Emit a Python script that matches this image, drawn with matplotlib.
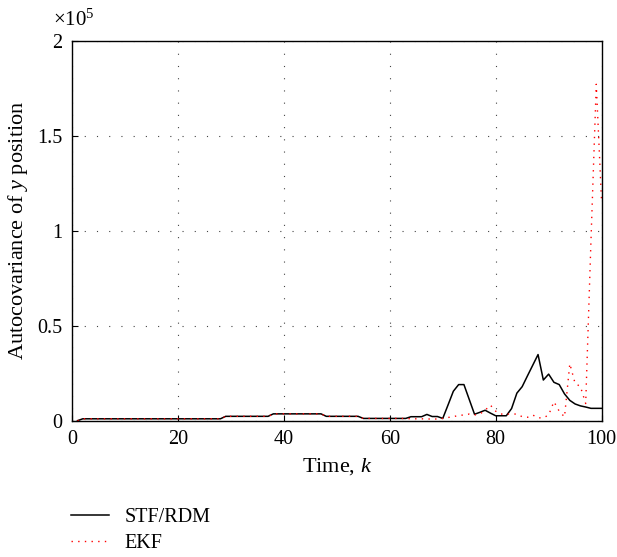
import matplotlib
matplotlib.use("Agg")
import matplotlib.pyplot as plt
from matplotlib.lines import Line2D

# Data (k = 1..100)
k = list(range(1, 101))

stf_rdm = [
    0, 1000, 1000, 1000, 1000, 1000, 1000, 1000, 1000, 1000,
    1000, 1000, 1000, 1000, 1000, 1000, 1000, 1000, 1000, 1000,
    1000, 1000, 1000, 1000, 1000, 1000, 1000, 1000, 2300, 2300,
    2300, 2300, 2300, 2300, 2300, 2300, 2300, 3600, 3600, 3600,
    3600, 3600, 3600, 3600, 3600, 3600, 3600, 2300, 2300, 2300,
    2300, 2300, 2300, 2300, 1200, 1200, 1200, 1200, 1200, 1200,
    1200, 1200, 1200, 2100, 2100, 2100, 3300, 2200, 2200, 1200,
    8300, 15500, 19000, 19000, 11200, 3400, 4400, 5500, 4000, 2600,
    2600, 2600, 6400, 14500, 17900, 23600, 29200, 34800, 21400, 24500,
    20200, 19000, 14100, 10700, 8800, 7800, 7200, 6500, 6500, 6500,
]

ekf = [
    0, 1000, 1000, 1000, 1000, 1000, 1000, 1000, 1000, 1000,
    1000, 1000, 1000, 1000, 1000, 1000, 1000, 1000, 1000, 1000,
    1000, 1000, 1000, 1000, 1000, 1000, 1000, 1000, 2300, 2300,
    2300, 2300, 2300, 2300, 2300, 2300, 2300, 3600, 3600, 3600,
    3600, 3600, 3600, 3600, 3600, 3600, 3600, 2300, 2300, 2300,
    2300, 2300, 2300, 2300, 1200, 1200, 1200, 1200, 1200, 1200,
    1200, 1200, 1200, 1000, 1000, 1000, 900, 900, 900, 1200,
    1700, 2100, 2800, 3000, 3500, 3000, 3500, 5500, 8200, 5000,
    3500, 3500, 3500, 3500, 2100, 1800, 3000, 1500, 1500, 3000,
    10000, 5000, 2000, 30000, 19600, 18000, 9000, 95000, 177000, 115000,
]

y_ticks = [0, 50000, 100000, 150000, 200000]
y_ticklabels = ["0", "0.5", "1", "1.5", "2"]
x_ticks = [0, 20, 40, 60, 80, 100]

plt.rcParams["font.family"] = ["Liberation Serif", "DejaVu Serif"]
plt.rcParams["mathtext.fontset"] = "custom"
plt.rcParams["mathtext.rm"] = "Liberation Serif"
plt.rcParams["mathtext.it"] = "Liberation Serif:italic"

fig = plt.figure(figsize=(6.17, 5.57), dpi=100)
ax = fig.add_axes([0.117, 0.2447, 0.858, 0.6825])

ax.plot(k, stf_rdm, color="black", lw=1.1, label="STF/RDM")
ax.plot(k, ekf, color="red", lw=1.0, linestyle=(0, (1, 3.8)), label="EKF")

ax.set_xlim(0, 100)
ax.set_ylim(0, 200000)
ax.set_xticks(x_ticks)
ax.set_yticks(y_ticks)
ax.set_yticklabels(y_ticklabels)
ax.tick_params(direction="in", length=4, labelsize=14.5, pad=7)
ax.grid(True, color="#444444", linestyle=(0, (1, 10)), lw=0.8)
for s in ax.spines.values():
    s.set_linewidth(1.0)

ax.text(-0.037, 1.038, r"$\times10^{5}$", transform=ax.transAxes,
        fontsize=15, ha="left", va="baseline")

ax.set_xlabel(r"Time, $k$", fontsize=16, labelpad=5)
ax.set_ylabel(r"Autocovariance of $y$ position", fontsize=16, labelpad=5)

handles = [Line2D([], [], color="black", lw=1.1),
           Line2D([], [], color="red", lw=1.0, linestyle=(0, (1, 3.8)))]
fig.legend(handles, ["STF/RDM", "EKF"], loc="upper left",
           bbox_to_anchor=(0.115, 0.088), frameon=False, fontsize=14.5,
           handlelength=1.9, handletextpad=0.75, labelspacing=0.35,
           borderpad=0, borderaxespad=0)

fig.savefig("out.png", dpi=100)
